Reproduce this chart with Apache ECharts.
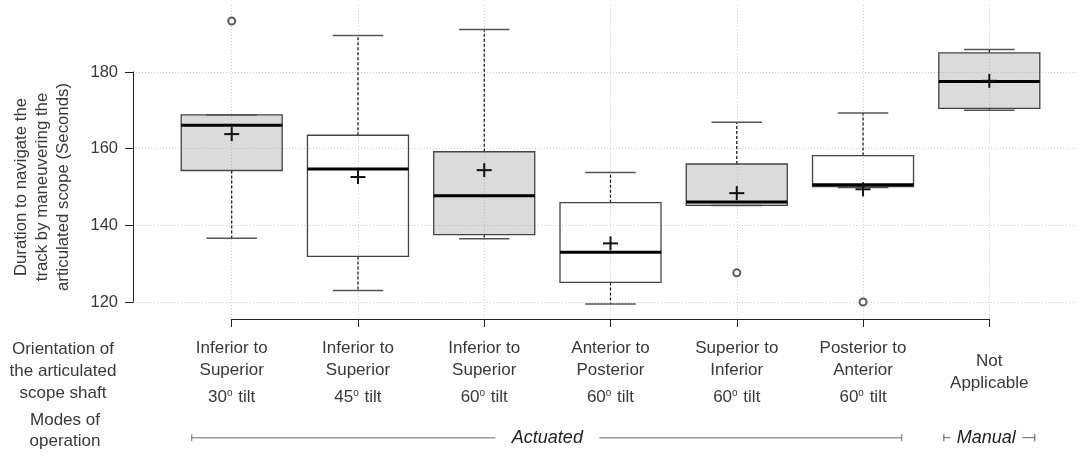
<!DOCTYPE html>
<html>
<head>
<meta charset="utf-8">
<script src="https://cdn.jsdelivr.net/npm/echarts@6/dist/echarts.min.js"></script>
<style>
  html, body { margin: 0; padding: 0; background: #fff; }
  #chart { width: 1078px; height: 463px; }
</style>
</head>
<body>
<div id="chart"></div>
<script>
// categories (orientation of the articulated scope shaft)
const orientTop = ['Inferior to', 'Inferior to', 'Inferior to', 'Anterior to', 'Superior to', 'Posterior to', 'Not']
const orientBottom = ['Superior', 'Superior', 'Superior', 'Posterior', 'Inferior', 'Anterior', 'Applicable']
const tilts = [30, 45, 60, 60, 60, 60, null]

// box statistics (seconds)
const whiskerLow = [136.6, 123.0, 136.5, 119.5, 145.2, 149.9, 170.0]
const q1 = [154.3, 131.9, 137.6, 125.1, 145.2, 150.1, 170.5]
const median = [166.1, 154.7, 147.7, 133.0, 146.1, 150.6, 177.5]
const q3 = [168.8, 163.5, 159.2, 145.9, 156.0, 158.2, 185.0]
const whiskerHigh = [168.8, 189.5, 191.1, 153.8, 166.9, 169.3, 185.9]
const means = [163.8, 152.6, 154.4, 135.3, 148.4, 149.4, 177.7]
const shaded = [true, false, true, false, true, false, true]

// outliers: [category, value]
const outliers = [[1, 193.3], [5, 127.6], [6, 120.0]]

// modes of operation
const modeNames = ['Actuated', 'Manual']
const modeFrom = [1, 7]
const modeTo = [6, 7]

const catPos = orientTop.map((d, i) => i + 1)
const boxData = catPos.map((x, i) => [x, whiskerLow[i], q1[i], median[i], q3[i], whiskerHigh[i], means[i]])

const FONT = '"Liberation Sans", Arial, sans-serif'
const TXT = '#383838'
const XMIN = 0.2183
const XMAX = 7.7025

const chart = echarts.init(document.getElementById('chart'))

chart.setOption({
  animation: false,
  backgroundColor: '#fff',
  textStyle: { fontFamily: FONT },
  grid: [
    // vertical dotted grid lines
    { left: 133, right: 0, top: 5, bottom: 144 },
    // y axis + boxes
    { left: 133, right: 0, top: 72, bottom: 161 },
    // R style x axis from first to last category
    { left: 231.7, right: 88.7, top: 300, bottom: 144 }
  ],
  xAxis: [
    {
      gridIndex: 0, type: 'value', min: XMIN, max: XMAX,
      axisLine: { show: false },
      axisTick: { show: false, customValues: catPos },
      axisLabel: { show: false },
      splitLine: { show: true, customValues: catPos, lineStyle: { color: '#cfcfcf', type: [1, 2], width: 1 } }
    },
    {
      gridIndex: 1, type: 'value', min: XMIN, max: XMAX, show: false
    },
    {
      gridIndex: 2, type: 'value', min: 1, max: 7, interval: 1,
      axisLine: { show: true, onZero: false, lineStyle: { color: '#222', width: 1 } },
      axisTick: { show: true, length: 8, lineStyle: { color: '#222', width: 1 } },
      splitLine: { show: false },
      axisLabel: {
        margin: 19,
        color: TXT,
        verticalAlign: 'top',
        formatter: function (val) {
          const i = Math.round(val) - 1
          if (tilts[i] == null) {
            return '{pad| }\n{a|' + orientTop[i] + '}\n{a|' + orientBottom[i] + '}'
          }
          return '{a|' + orientTop[i] + '}\n{a|' + orientBottom[i] + '}\n{t|' + tilts[i] + '}{s|o}{t| tilt}'
        },
        rich: {
          pad: { fontSize: 10, lineHeight: 13 },
          a: { fontSize: 17, lineHeight: 21.5, color: TXT, fontFamily: FONT },
          t: { fontSize: 17, lineHeight: 32, color: TXT, fontFamily: FONT },
          s: { fontSize: 10, verticalAlign: 'top', padding: [7, 1, 0, 0], color: TXT, fontFamily: FONT }
        }
      }
    }
  ],
  yAxis: [
    { gridIndex: 0, type: 'value', min: 115.5, max: 197.4, show: false },
    {
      gridIndex: 1, type: 'value', min: 120, max: 180, interval: 20,
      axisLine: { show: true, lineStyle: { color: '#222', width: 1 } },
      axisTick: { show: true, length: 8, lineStyle: { color: '#222', width: 1 } },
      axisLabel: { margin: 15, fontSize: 16.5, color: TXT, fontFamily: FONT },
      splitLine: { show: true, lineStyle: { color: '#cfcfcf', type: [1, 2], width: 1 } }
    },
    { gridIndex: 2, type: 'value', min: 0, max: 1, show: false }
  ],
  graphic: [
    {
      type: 'text', x: 42, y: 187, rotation: Math.PI / 2,
      style: {
        text: 'Duration to navigate the\ntrack by maneuvering the\narticulated scope (Seconds)',
        align: 'center', verticalAlign: 'middle', lineHeight: 21,
        fontSize: 16.8, fontFamily: FONT, fill: TXT
      }
    },
    {
      type: 'text', x: 63, y: 371,
      style: {
        text: 'Orientation of\nthe articulated\nscope shaft',
        align: 'center', verticalAlign: 'middle', lineHeight: 22,
        fontSize: 17, fontFamily: FONT, fill: TXT
      }
    },
    {
      type: 'text', x: 65, y: 431,
      style: {
        text: 'Modes of\noperation',
        align: 'center', verticalAlign: 'middle', lineHeight: 21,
        fontSize: 17, fontFamily: FONT, fill: TXT
      }
    }
  ],
  series: [
    {
      type: 'custom',
      name: 'boxes',
      xAxisIndex: 1,
      yAxisIndex: 1,
      clip: false,
      data: boxData,
      renderItem: function (params, api) {
        const i = params.dataIndex
        const x = api.value(0)
        const pLow = api.coord([x, api.value(1)])
        const pQ1 = api.coord([x, api.value(2)])
        const pMed = api.coord([x, api.value(3)])
        const pQ3 = api.coord([x, api.value(4)])
        const pHigh = api.coord([x, api.value(5)])
        const pMean = api.coord([x, api.value(6)])
        const halfBox = api.size([0.8, 0])[0] / 2
        const halfCap = api.size([0.4, 0])[0] / 2
        const cx = pMed[0]
        const whisk = { stroke: '#111', lineWidth: 1.2, lineDash: [3, 2] }
        const cap = { stroke: '#555', lineWidth: 1.5 }
        return {
          type: 'group',
          children: [
            { type: 'line', shape: { x1: cx, y1: pQ3[1], x2: cx, y2: pHigh[1] }, style: whisk },
            { type: 'line', shape: { x1: cx, y1: pQ1[1], x2: cx, y2: pLow[1] }, style: whisk },
            { type: 'line', shape: { x1: cx - halfCap, y1: pHigh[1], x2: cx + halfCap, y2: pHigh[1] }, style: cap },
            { type: 'line', shape: { x1: cx - halfCap, y1: pLow[1], x2: cx + halfCap, y2: pLow[1] }, style: cap },
            {
              type: 'rect',
              shape: { x: cx - halfBox, y: pQ3[1], width: halfBox * 2, height: pQ1[1] - pQ3[1] },
              style: { fill: shaded[i] ? 'rgba(150,150,150,0.34)' : 'rgba(255,255,255,0)', stroke: '#444', lineWidth: 1.3 }
            },
            { type: 'line', shape: { x1: cx - halfBox, y1: pMed[1], x2: cx + halfBox, y2: pMed[1] }, style: { stroke: '#000', lineWidth: 3 } },
            { type: 'line', shape: { x1: cx - 7.5, y1: pMean[1], x2: cx + 7.5, y2: pMean[1] }, style: { stroke: '#111', lineWidth: 2 } },
            { type: 'line', shape: { x1: cx, y1: pMean[1] - 7, x2: cx, y2: pMean[1] + 7 }, style: { stroke: '#111', lineWidth: 2 } }
          ]
        }
      }
    },
    {
      type: 'scatter',
      name: 'outliers',
      xAxisIndex: 1,
      yAxisIndex: 1,
      clip: false,
      symbol: 'emptyCircle',
      symbolSize: 7,
      itemStyle: { color: '#333', borderWidth: 1 },
      data: outliers
    },
    {
      type: 'custom',
      name: 'modes',
      xAxisIndex: 2,
      yAxisIndex: 2,
      clip: false,
      data: modeNames.map((n, i) => [modeFrom[i], modeTo[i]]),
      renderItem: function (params, api) {
        const a = api.value(0)
        const b = api.value(1)
        const single = a === b
        const padL = single ? 0.36 : 0.317
        const padR = single ? 0.36 : 0.306
        const gap = single ? 36 : 52
        const y = api.coord([a, 0])[1] + 118.7
        const x0 = api.coord([a - padL, 0])[0]
        const x1 = api.coord([b + padR, 0])[0]
        const xm = api.coord([(a + b) / 2, 0])[0] - (single ? 3 : 0)
        const ln = single ? { stroke: '#666', lineWidth: 1 } : { stroke: '#999', lineWidth: 1.5 }
        const tk = { stroke: single ? '#666' : '#888', lineWidth: 1.2 }
        return {
          type: 'group',
          children: [
            { type: 'line', shape: { x1: x0, y1: y, x2: xm - gap, y2: y }, style: ln },
            { type: 'line', shape: { x1: xm + gap, y1: y, x2: x1, y2: y }, style: ln },
            { type: 'line', shape: { x1: x0, y1: y - 3.5, x2: x0, y2: y + 3.5 }, style: tk },
            { type: 'line', shape: { x1: x1, y1: y - 3.5, x2: x1, y2: y + 3.5 }, style: tk },
            {
              type: 'text', x: xm, y: y,
              style: {
                text: modeNames[params.dataIndex], align: 'center', verticalAlign: 'middle',
                fontSize: 18, fontStyle: 'italic', fontFamily: FONT, fill: '#222'
              }
            }
          ]
        }
      }
    }
  ]
})
</script>
</body>
</html>
